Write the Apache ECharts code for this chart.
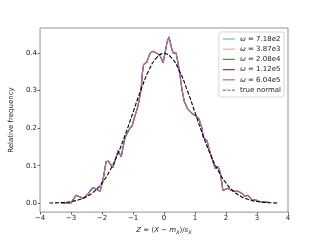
<!DOCTYPE html>
<html><head><meta charset="utf-8">
<script src="https://cdn.jsdelivr.net/npm/echarts@6/dist/echarts.min.js"></script>
<style>html,body{margin:0;padding:0;background:#fff}#c{width:320px;height:240px}</style>
</head><body><div id="c"></div>
<script>
var seriesLabels = ['7.18e2','3.87e3','2.08e4','1.12e5','6.04e5'];
var seriesColors = ['#86b6dc','#ffb47c','#3aab3a','#d62728','#9b78c4'];
var empZ = [-3.3,-3.0,-2.84,-2.61,-2.45,-2.29,-2.06,-1.95,-1.87,-1.80,-1.65,-1.48,-1.38,-1.26,-1.10,-1.03,-0.94,-0.84,-0.74,-0.70,-0.66,-0.55,-0.45,-0.35,-0.2,-0.12,-0.03,0.10,0.16,0.26,0.30,0.39,0.45,0.52,0.58,0.65,0.77,0.94,1.06,1.13,1.23,1.26,1.39,1.45,1.65,1.74,1.81,1.90,2.06,2.23,2.39,2.52,2.61,2.71,2.84,2.94,3.03,3.20,3.40];
var empY = [0.0,0.001,0.021,0.013,0.025,0.042,0.032,0.07,0.111,0.112,0.095,0.14,0.124,0.175,0.200,0.206,0.232,0.259,0.303,0.345,0.369,0.377,0.400,0.405,0.398,0.392,0.374,0.43,0.443,0.409,0.400,0.400,0.374,0.338,0.303,0.272,0.25,0.237,0.23,0.224,0.198,0.177,0.166,0.145,0.092,0.098,0.084,0.034,0.040,0.032,0.032,0.026,0.018,0.021,0.008,0.010,0.005,0.004,0.002];
var normZ = [-3.7,-3.5,-3.25,-3.0,-2.75,-2.5,-2.25,-2.0,-1.75,-1.5,-1.25,-1.0,-0.75,-0.5,-0.25,0,0.25,0.5,0.75,1.0,1.25,1.5,1.75,2.0,2.25,2.5,2.75,3.0,3.25,3.5,3.7];
var normY = [0.0004,0.0009,0.002,0.0044,0.0091,0.0175,0.0317,0.054,0.0863,0.1295,0.1826,0.242,0.3011,0.3521,0.3867,0.3989,0.3867,0.3521,0.3011,0.242,0.1826,0.1295,0.0863,0.054,0.0317,0.0175,0.0091,0.0044,0.002,0.0009,0.0004];
var xTicks = [-4,-3,-2,-1,0,1,2,3,4];
var yTicks = [0.0,0.1,0.2,0.3,0.4];

function pairs(xs, ys){ return xs.map(function(x,i){return [x, ys[i]];}); }
var font = 'DejaVu Sans';
var series = seriesLabels.map(function(l,i){
  return {name:'ω = '+l, type:'line', data:pairs(empZ, empY), symbol:'none', showSymbol:false,
    lineStyle:{color:seriesColors[i], width:1.1}, itemStyle:{color:seriesColors[i]}, z:2+i, animation:false};
});
series.push({name:'true normal', type:'line', data:pairs(normZ, normY), smooth:true, symbol:'none', showSymbol:false,
  lineStyle:{color:'#000', width:1.1, type:[4,1.7]}, itemStyle:{color:'#000'}, z:10, animation:false});

var legendData = series.map(function(s){
  if (s.name === 'true normal') return {name:s.name, icon:'path://M0,0h4v1h-4z M6,0h4v1h-4z M12,0h4v1h-4z', itemStyle:{color:'#222'}};
  return {name:s.name, icon:'rect'};
});

var chart = echarts.init(document.getElementById('c'), null, {renderer:'canvas'});
chart.setOption({
  animation:false,
  textStyle:{fontFamily:font},
  grid:{left:40, right:32, top:28, bottom:26, show:true, borderColor:'#777', borderWidth:0.8, backgroundColor:'#fff'},
  legend:{
    orient:'vertical', right:36, top:32, padding:[3,3,3,4], itemGap:2.2, itemWidth:12, itemHeight:1.3,
    borderColor:'#ccc', borderWidth:0.8, borderRadius:2, backgroundColor:'#fff',
    textStyle:{fontFamily:font, fontSize:7, color:'#222', lineHeight:8,
      rich:{i:{fontStyle:'italic', fontFamily:font, fontSize:7, color:'#222', lineHeight:8}}},
    formatter:function(n){
      if(n.indexOf('ω')===0) return '{i|ω} = '+n.slice(4);
      return n;
    },
    data: legendData
  },
  xAxis:{type:'value', min:-4, max:4, interval:1,
    name:'{i|Z} = ({i|X} − {i|m}{s|X})/{i|s}{s|X}', nameLocation:'middle', nameGap:12,
    nameTextStyle:{fontFamily:font, fontSize:7, color:'#222', rich:{i:{fontStyle:'italic', fontSize:7, fontFamily:font, color:'#222'}, s:{fontStyle:'italic', fontSize:5, fontFamily:font, color:'#222', padding:[4,0,0,0]}}},
    axisLine:{show:false, onZero:false}, splitLine:{show:false},
    axisTick:{show:true, length:2.5, inside:false, lineStyle:{color:'#333', width:0.7}},
    axisLabel:{fontSize:7, color:'#222', margin:3, fontFamily:font, formatter:function(v){return String(v).replace('-','−');}}
  },
  yAxis:{type:'value', min:-0.0237, max:0.467,
    name:'Relative frequency', nameLocation:'middle', nameGap:17, nameRotate:90,
    nameTextStyle:{fontFamily:font, fontSize:7, color:'#222'},
    axisLine:{show:false, onZero:false}, splitLine:{show:false},
    axisTick:{show:true, length:2.5, lineStyle:{color:'#333', width:0.7}, customValues:yTicks},
    axisLabel:{fontSize:7, color:'#222', margin:3, fontFamily:font, customValues:yTicks, formatter:function(v){return v.toFixed(1);}}
  },
  series: series
});
</script></body></html>
